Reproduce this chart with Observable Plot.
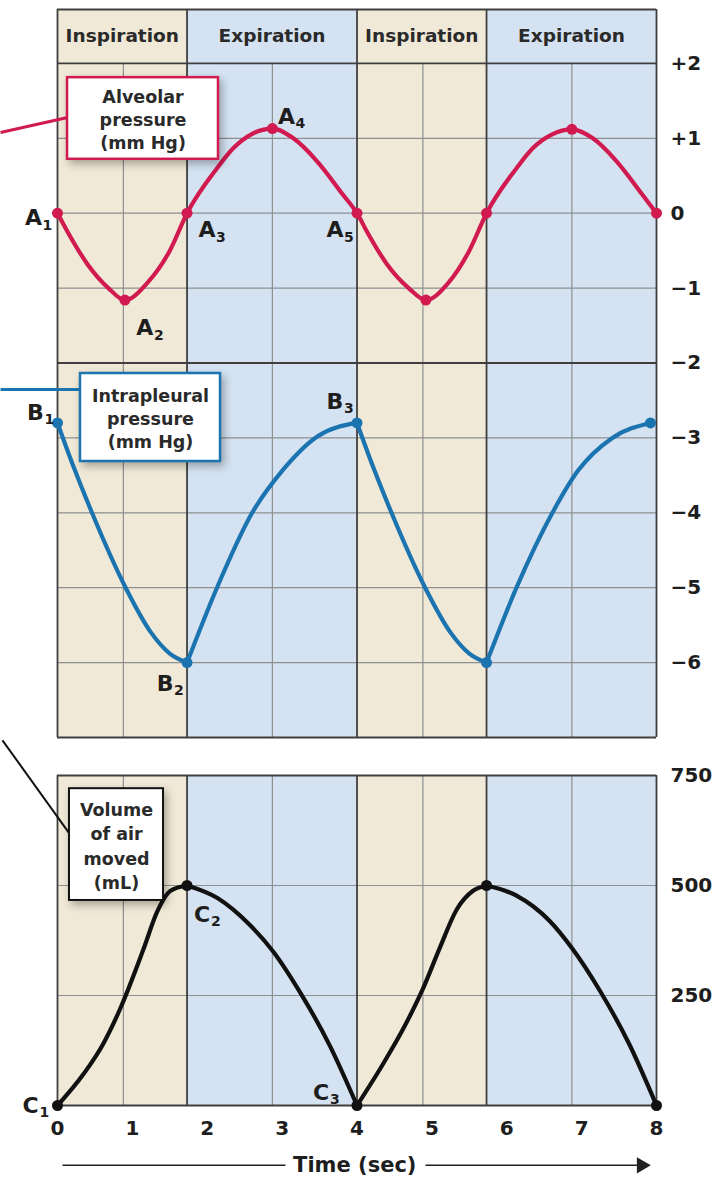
<!DOCTYPE html>
<html>
<head>
<meta charset="utf-8">
<script src="https://cdn.jsdelivr.net/npm/d3@7"></script>
<script src="https://cdn.jsdelivr.net/npm/@observablehq/plot@0.6"></script>
<style>
  body { margin: 0; background: #fff; }
  #chart { position: relative; width: 721px; height: 1177px; }
  #chart svg { display: block; }
</style>
</head>
<body>
<div id="chart"></div>
<script>
// ---------- data ----------
const phaseNames = ["Inspiration", "Expiration", "Inspiration", "Expiration"];
const phaseStart = [0, 1.73, 4, 5.73];
const phaseEnd = [1.73, 4, 5.73, 8];

const timeTicks = [0, 1, 2, 3, 4, 5, 6, 7, 8];
const pressureTicks = [2, 1, 0, -1, -2, -3, -4, -5, -6];
const volumeTicks = [250, 500, 750];
const midGridTimes = [0.88, 2.87, 4.88, 6.87];
const boundaryTimes = [0, 1.73, 4, 5.73, 8];
const pressureGridLight = [1, 0, -1, -3, -4, -5, -6];
const pressureGridDark = [2, -2];
const volumeGridLight = [250, 500];

// Alveolar pressure (mm Hg)
const alvTime = [0, 0.13, 0.4, 0.68, 0.9, 1.2, 1.5, 1.73, 2.13, 2.35, 2.6, 2.87, 3.15, 3.47, 3.81, 4,
                 4.13, 4.4, 4.69, 4.92, 5.22, 5.5, 5.73, 6.13, 6.35, 6.6, 6.87, 7.15, 7.47, 7.81, 8];
const alvValue = [0, -0.24, -0.68, -1.0, -1.16, -0.93, -0.5, 0, 0.6, 0.87, 1.06, 1.13, 1.0, 0.69, 0.25, 0,
                  -0.24, -0.68, -1.0, -1.16, -0.93, -0.5, 0, 0.6, 0.87, 1.05, 1.12, 1.0, 0.69, 0.25, 0];
const alvDotTime = [0, 0.9, 1.73, 2.87, 4, 4.92, 5.73, 6.87, 8];
const alvDotValue = [0, -1.16, 0, 1.13, 0, -1.16, 0, 1.12, 0];

// Intrapleural pressure (mm Hg)
const pleuTime = [0, 0.22, 0.44, 0.91, 1.25, 1.5, 1.73, 2.13, 2.6, 3.0, 3.47, 4,
                  4.22, 4.44, 4.91, 5.25, 5.5, 5.73, 6.13, 6.61, 6.95, 7.41, 7.92];
const pleuValue = [-2.8, -3.4, -3.95, -5, -5.6, -5.88, -6, -5, -4, -3.44, -2.98, -2.8,
                   -3.4, -3.95, -5, -5.6, -5.88, -6, -5, -4, -3.44, -3.0, -2.8];
const pleuDotTime = [0, 1.73, 4, 5.73, 7.92];
const pleuDotValue = [-2.8, -6, -2.8, -6, -2.8];

// Volume of air moved (mL)
const volTime = [0, 0.35, 0.61, 0.84, 1.15, 1.33, 1.51, 1.73, 2.13, 2.57, 2.88, 3.24, 3.64, 4,
                 4.35, 4.61, 4.88, 5.11, 5.33, 5.55, 5.73, 6.13, 6.57, 6.87, 7.24, 7.64, 8];
const volValue = [0, 72, 140, 221, 356, 440, 488, 500, 472, 410, 350, 257, 135, 0,
                  95, 172, 265, 360, 445, 488, 500, 477, 420, 358, 262, 138, 0];
const volDotTime = [0, 1.73, 4, 5.73, 8];
const volDotValue = [0, 500, 0, 500, 0];

// point labels: letter, subscript, index of the dot
const alvLabels = [["A", "1", 0], ["A", "2", 1], ["A", "3", 2], ["A", "4", 3], ["A", "5", 4]];
const pleuLabels = [["B", "1", 0], ["B", "2", 1], ["B", "3", 2]];
const volLabels = [["C", "1", 0], ["C", "2", 1], ["C", "3", 2]];

const alvTitle = "Alveolar\npressure\n(mm Hg)";
const pleuTitle = "Intrapleural\npressure\n(mm Hg)";
const volTitle = "Volume\nof air\nmoved\n(mL)";
const axisTitle = "Time (sec)";

// ---------- styling ----------
const TAN = "#f0e9d7";
const BLUE = "#d4e2f1";
const RED = "#d11a4f";
const BLUE_LINE = "#1b74b0";
const BLACK = "#111";
const LIGHT = "#8d8f91";
const DARK = "#3f3f3f";
const FONT = "DejaVu Sans";

const phases = phaseNames.map((p, i) => ({phase: p, start: phaseStart[i], end: phaseEnd[i]}));
const zip = (ts, vs) => ts.map((t, i) => ({t, v: vs[i]}));
const bySegments = (rows) => phases.flatMap((p, i) =>
  rows.filter(d => d.t >= p.start - 1e-9 && d.t <= p.end + 1e-9).map(d => ({...d, seg: i})));

const alvRows = zip(alvTime, alvValue);
const alvDots = zip(alvDotTime, alvDotValue);
const pleuRows = bySegments(zip(pleuTime, pleuValue));
const pleuDots = zip(pleuDotTime, pleuDotValue);
const volRows = bySegments(zip(volTime, volValue));
const volDots = zip(volDotTime, volDotValue);

function pointLabel(dot, letter, sub, dx, dy) {
  return [
    Plot.text([dot], {x: "t", y: "v", text: () => letter, dx: dx - 5, dy: dy,
      fontSize: 22, fontWeight: "bold", fill: "#1e1e1e", fontFamily: FONT}),
    Plot.text([dot], {x: "t", y: "v", text: () => sub, dx: dx + 4, dy: dy + 7, textAnchor: "start",
      fontSize: 14, fontWeight: "bold", fill: "#1e1e1e", fontFamily: FONT})
  ];
}
const alvOffsets = [[-19, 5], [25, 28], [25, 17], [19, -12], [-17, 17]];
const pleuOffsets = [[-17, -10], [-17, 21], [-17, -21]];
const volOffsets = [[-22, 0], [20, 29], [-31, -13]];

const pFmt = d => d > 0 ? "+" + d : d < 0 ? "\u2212" + Math.abs(d) : "0";
const SHADOW = "drop-shadow(3px 4px 4px rgba(0,0,0,0.3))";

// ---------- top panel: pressures ----------
const topPlot = Plot.plot({
  width: 721, height: 750,
  marginLeft: 57, marginRight: 65, marginTop: 9, marginBottom: 13,
  x: {domain: [0, 8], axis: null},
  y: {domain: [-7, 2.72], axis: null},
  style: {fontFamily: FONT, overflow: "visible", background: "transparent"},
  marks: [
    Plot.rect(phases, {x1: "start", x2: "end", y1: -7, y2: 2.72,
      fill: d => d.phase === "Inspiration" ? TAN : BLUE}),
    Plot.ruleX(midGridTimes, {y1: -7, y2: 2, stroke: LIGHT, strokeWidth: 1.2}),
    Plot.ruleY(pressureGridLight, {x1: 0, x2: 8, stroke: LIGHT, strokeWidth: 1.2}),
    Plot.ruleY(pressureGridDark, {x1: 0, x2: 8, stroke: DARK, strokeWidth: 1.8}),
    Plot.ruleY([2.72, -7], {x1: 0, x2: 8, stroke: DARK, strokeWidth: 1.8}),
    Plot.ruleX(boundaryTimes, {y1: -7, y2: 2.72, stroke: DARK, strokeWidth: 1.8}),
    Plot.text(phases, {x: d => (d.start + d.end) / 2, y: 2.36, text: "phase",
      fontSize: 18.5, fontWeight: "bold", fill: "#2a2a2a"}),
    Plot.axisY(pressureTicks, {anchor: "right", tickSize: 0, tickPadding: 14, tickFormat: pFmt,
      fontSize: 20, fontWeight: "bold", label: null, fill: "#1e1e1e"}),
    // curves
    Plot.line(alvRows, {x: "t", y: "v", stroke: RED, strokeWidth: 4.2, curve: "monotone-x"}),
    Plot.dot(alvDots, {x: "t", y: "v", r: 5.5, fill: RED}),
    Plot.line(pleuRows, {x: "t", y: "v", z: "seg", stroke: BLUE_LINE, strokeWidth: 4.2, curve: "monotone-x"}),
    Plot.dot(pleuDots, {x: "t", y: "v", r: 5.5, fill: BLUE_LINE}),
    ...alvLabels.flatMap((l, i) => pointLabel(alvDots[l[2]], l[0], l[1], alvOffsets[i][0], alvOffsets[i][1])),
    ...pleuLabels.flatMap((l, i) => pointLabel(pleuDots[l[2]], l[0], l[1], pleuOffsets[i][0], pleuOffsets[i][1])),
    // callout boxes
    Plot.link([{x1: -0.761, y1: 1.077, x2: 0.134, y2: 1.278}], {x1: "x1", y1: "y1", x2: "x2", y2: "y2", stroke: RED, strokeWidth: 3}),
    Plot.rect([{x1: 0.134, x2: 2.15, y1: 0.72, y2: 1.81}], {x1: "x1", x2: "x2", y1: "y1", y2: "y2",
      fill: "white", stroke: RED, strokeWidth: 2.5, imageFilter: SHADOW}),
    Plot.text([{t: 1.142, v: 1.264}], {x: "t", y: "v", text: () => alvTitle, fontSize: 17.5, lineHeight: 1.33,
      fontWeight: "bold", fill: "#2a2a2a"}),
    Plot.link([{x1: -0.761, y1: -2.354, x2: 0.307, y2: -2.354}], {x1: "x1", y1: "y1", x2: "x2", y2: "y2", stroke: BLUE_LINE, strokeWidth: 3}),
    Plot.rect([{x1: 0.307, x2: 2.177, y1: -3.315, y2: -2.14}], {x1: "x1", x2: "x2", y1: "y1", y2: "y2",
      fill: "white", stroke: BLUE_LINE, strokeWidth: 2.5, imageFilter: SHADOW}),
    Plot.text([{t: 1.242, v: -2.727}], {x: "t", y: "v", text: () => pleuTitle, fontSize: 17.5, lineHeight: 1.33,
      fontWeight: "bold", fill: "#2a2a2a"})
  ]
});

// ---------- bottom panel: volume ----------
const bottomPlot = Plot.plot({
  width: 721, height: 427,
  marginLeft: 57, marginRight: 65, marginTop: 25, marginBottom: 72,
  x: {domain: [0, 8], axis: null},
  y: {domain: [0, 750], axis: null},
  style: {fontFamily: FONT, overflow: "visible", background: "transparent"},
  marks: [
    Plot.rect(phases, {x1: "start", x2: "end", y1: 0, y2: 750,
      fill: d => d.phase === "Inspiration" ? TAN : BLUE}),
    Plot.ruleX(midGridTimes, {y1: 0, y2: 750, stroke: LIGHT, strokeWidth: 1.2}),
    Plot.ruleY(volumeGridLight, {x1: 0, x2: 8, stroke: LIGHT, strokeWidth: 1.2}),
    Plot.ruleY([0, 750], {x1: 0, x2: 8, stroke: DARK, strokeWidth: 1.8}),
    Plot.ruleX(boundaryTimes, {y1: 0, y2: 750, stroke: DARK, strokeWidth: 1.8}),
    Plot.axisY(volumeTicks, {anchor: "right", tickSize: 0, tickPadding: 14,
      fontSize: 20, fontWeight: "bold", label: null, fill: "#1e1e1e"}),
    Plot.axisX(timeTicks, {anchor: "bottom", tickSize: 0, tickPadding: 15,
      fontSize: 20, fontWeight: "bold", label: null, fill: "#1e1e1e"}),
    Plot.line(volRows, {x: "t", y: "v", z: "seg", stroke: BLACK, strokeWidth: 4.2, curve: "monotone-x"}),
    Plot.dot(volDots, {x: "t", y: "v", r: 5.5, fill: BLACK}),
    ...volLabels.flatMap((l, i) => pointLabel(volDots[l[2]], l[0], l[1], volOffsets[i][0], volOffsets[i][1])),
    Plot.link([{x1: -0.735, y1: 830, x2: 0.16, y2: 618}], {x1: "x1", y1: "y1", x2: "x2", y2: "y2", stroke: BLACK, strokeWidth: 2}),
    Plot.rect([{x1: 0.16, x2: 1.416, y1: 466, y2: 720}], {x1: "x1", x2: "x2", y1: "y1", y2: "y2",
      fill: "white", stroke: BLACK, strokeWidth: 2, imageFilter: SHADOW}),
    Plot.text([{t: 0.788, v: 593}], {x: "t", y: "v", text: () => volTitle, fontSize: 17.5, lineHeight: 1.4,
      fontWeight: "bold", fill: "#2a2a2a"}),
    // time axis title with arrows
    Plot.link([{x1: 0.067, x2: 3.045}], {x1: "x1", x2: "x2", y1: -136, y2: -136, stroke: "#222", strokeWidth: 1.5}),
    Plot.link([{x1: 4.915, x2: 7.8}], {x1: "x1", x2: "x2", y1: -136, y2: -136, stroke: "#222", strokeWidth: 1.5}),
    Plot.dot([{t: 7.8}], {x: "t", y: -136, symbol: "triangle", rotate: 90, r: 6, fill: "#222", stroke: "none"}),
    Plot.text([{t: 3.97}], {x: "t", y: -136, text: () => axisTitle, fontSize: 21, fontWeight: "bold", fill: "#1e1e1e"})
  ]
});

const chart = document.getElementById("chart");
chart.appendChild(topPlot);
chart.appendChild(bottomPlot);
</script>
</body>
</html>
